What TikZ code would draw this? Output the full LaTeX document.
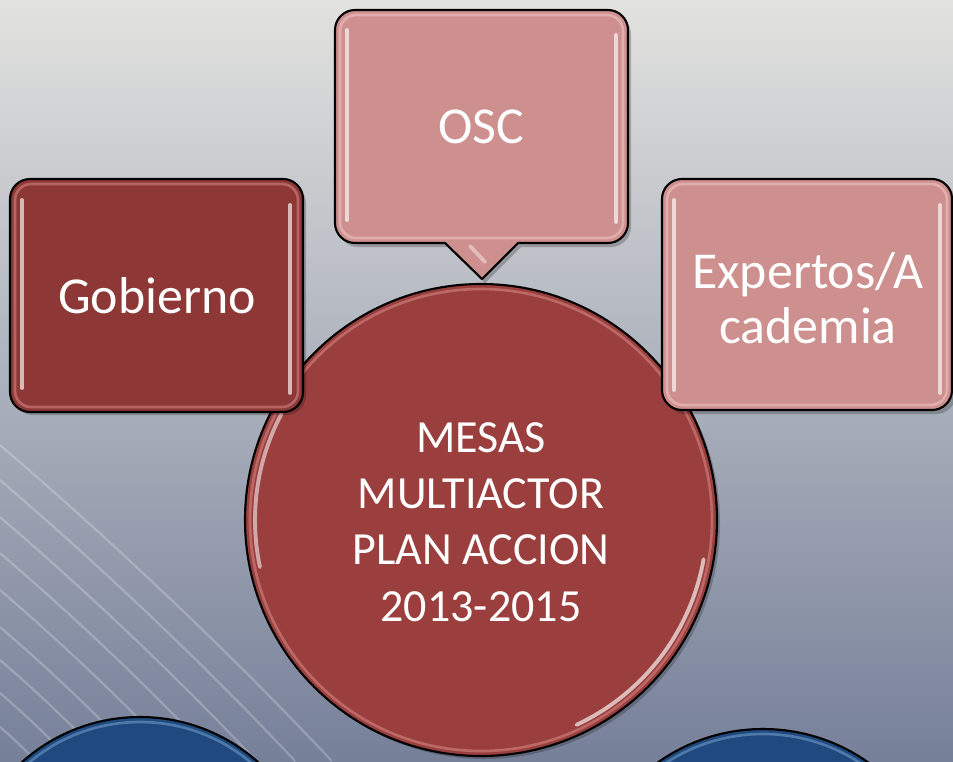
\documentclass[tikz,border=0pt]{standalone}
\usepackage{fontspec}
\setmainfont{Carlito}
\definecolor{bgtop}{RGB}{226,226,223}
\definecolor{bgmid}{RGB}{186,189,195}
\definecolor{bgbot}{RGB}{118,128,153}
\definecolor{darkred}{RGB}{141,56,54}
\definecolor{midred}{RGB}{155,63,62}
\definecolor{pinkc}{RGB}{206,144,142}
\definecolor{bluec}{RGB}{31,74,127}
\definecolor{rimred}{RGB}{215,140,138}
\definecolor{rimpink}{RGB}{240,200,198}
\definecolor{rimblue}{RGB}{120,160,205}
\tikzset{
  outline/.style={draw=black, line width=1.2pt},
  shadowfill/.style={fill=black, opacity=0.22},
  rim/.style={line width=1.5pt, opacity=0.55},
  gloss/.style={draw=white, line width=2.2pt, opacity=0.65, line cap=round},
  boxtext/.style={text=white, font=\fontsize{29.5}{31.5}\selectfont, align=center},
  circtext/.style={text=white, font=\fontsize{26.2}{32}\selectfont, align=center},
  streak/.style={draw=white, line width=1.3pt, opacity=0.22}
}
\begin{document}
\begin{tikzpicture}[x=0.02cm, y=-0.02cm, line join=round]
\useasboundingbox (0,0) rectangle (953,761);
\clip (0,0) rectangle (953,761);
% background
\shade[top color=bgtop, middle color=bgmid, bottom color=bgbot] (0,0) rectangle (953,761);
% streaks bottom-left
\foreach \y in {445, 480, 517, 553, 590, 627, 660, 693, 727} {
  \draw[streak] (0,\y) .. controls ({0.4*(761-\y)*1.05}, {\y+0.36*(761-\y)}) and ({0.75*(761-\y)*1.05}, {\y+0.72*(761-\y)}) .. ({(761-\y)*1.05},761);
}
% blue circles
\fill[shadowfill] (143,897) circle[radius=177];
\filldraw[outline, fill=bluec] (140,894) circle[radius=177];
\draw[rim, draw=rimblue] (140,894) circle[radius=172];
\fill[shadowfill] (766,914) circle[radius=182];
\filldraw[outline, fill=bluec] (763,911) circle[radius=182];
\draw[rim, draw=rimblue] (763,911) circle[radius=177];
% main circle
\fill[shadowfill] (484,523) circle[radius=236];
\filldraw[outline, fill=midred] (481,520) circle[radius=236];
\draw[rim, draw=rimred] (481,520) circle[radius=231];
\draw[gloss] (481,520) ++(10:226) arc[start angle=10, end angle=65, radius=226];
\draw[gloss, opacity=0.55] (481,520) ++(168:226) arc[start angle=168, end angle=208, radius=226];
\node[circtext] (mesas) at (481,522) {MESAS\\MULTIACTOR\\PLAN ACCION\\2013-2015};
% Gobierno box
\fill[shadowfill, rounded corners=0.4cm] (13,183) rectangle (306,415);
\filldraw[outline, fill=darkred, rounded corners=0.4cm] (10,179) rectangle (303,412);
\draw[rim, draw=rimred, rounded corners=0.32cm] (15,184) rectangle (298,407);
\draw[gloss] (22,200) -- (22,388);
\draw[gloss] (290,205) -- (290,393);
\node[boxtext] (gob) at (157,296) {Gobierno};
% Expertos box
\fill[shadowfill, rounded corners=0.4cm] (665,183) rectangle (956,414);
\filldraw[outline, fill=pinkc, rounded corners=0.4cm] (662,179) rectangle (952,410);
\draw[rim, draw=rimpink, rounded corners=0.32cm] (667,184) rectangle (947,405);
\draw[gloss] (674,200) -- (674,390);
\draw[gloss] (940,205) -- (940,393);
\node[boxtext, font=\fontsize{29.5}{31.3}\selectfont] (exp) at (808,298) {Expertos/A\\cademia};
% OSC callout
\fill[shadowfill, shift={(3,4)}] (355,10) -- (608,10) .. controls (619,10) and (628,19) .. (628,30) -- (628,223) .. controls (628,234) and (619,243) .. (608,243) -- (518,243) -- (482,279) -- (445,243) -- (355,243) .. controls (344,243) and (335,234) .. (335,223) -- (335,30) .. controls (335,19) and (344,10) .. (355,10) -- cycle;
\filldraw[outline, fill=pinkc] (355,10) -- (608,10) .. controls (619,10) and (628,19) .. (628,30) -- (628,223) .. controls (628,234) and (619,243) .. (608,243) -- (518,243) -- (482,279) -- (445,243) -- (355,243) .. controls (344,243) and (335,234) .. (335,223) -- (335,30) .. controls (335,19) and (344,10) .. (355,10) -- cycle;
\draw[rim, draw=rimpink, rounded corners=0.32cm] (340,15) rectangle (623,238);
\draw[gloss] (347,30) -- (347,220);
\draw[gloss] (616,35) -- (616,222);
\draw[gloss, opacity=0.4] (470,246) -- (485,262);
\node[boxtext] (osc) at (481,127) {OSC};
\end{tikzpicture}
\end{document}
